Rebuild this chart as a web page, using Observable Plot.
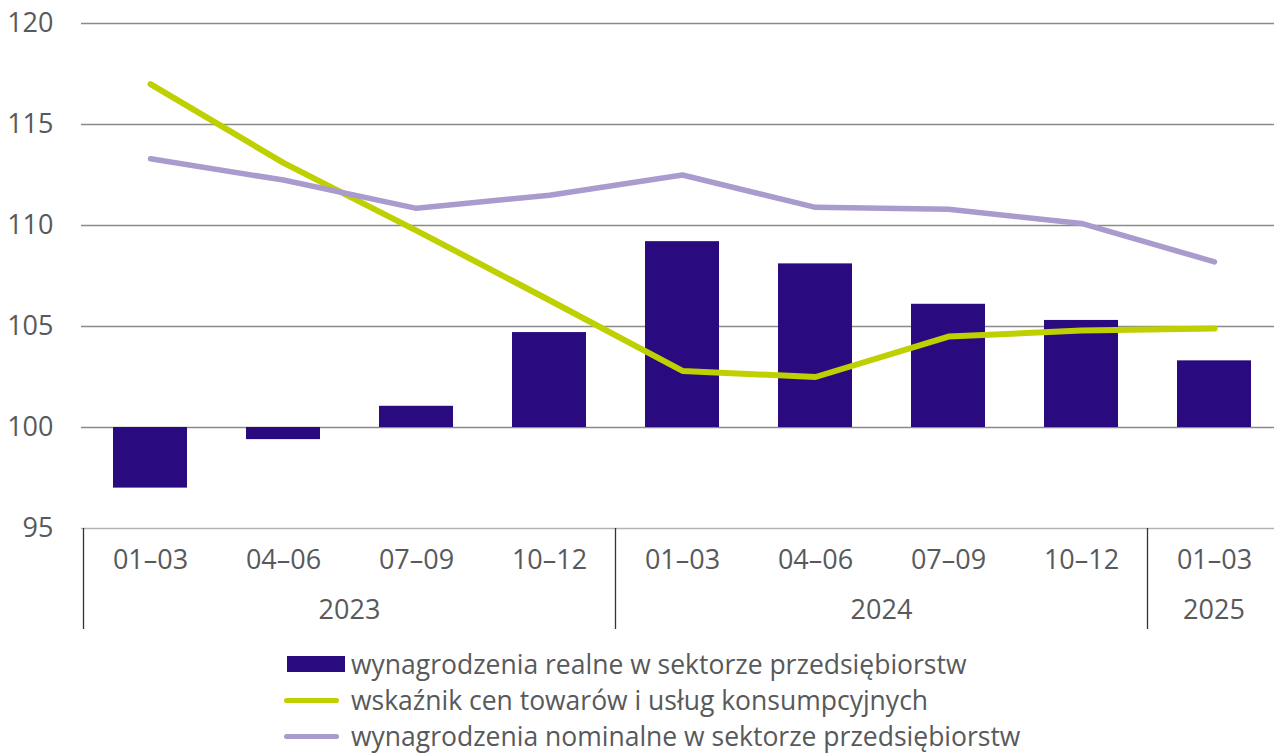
<!DOCTYPE html>
<html>
<head>
<meta charset="utf-8">
<script src="https://cdn.jsdelivr.net/npm/d3@7"></script>
<script src="https://cdn.jsdelivr.net/npm/@observablehq/plot@0.6"></script>
<style>
  html, body { margin: 0; padding: 0; background: #fff; }
  body { width: 1274px; height: 755px; overflow: hidden; font-family: "Open Sans", sans-serif; color: #58595b; }
  #legend { margin-top: 6px; padding-left: 283px; }
  .row { display: flex; align-items: center; height: 36px; font-size: 26.5px; line-height: 1; white-space: nowrap; }
  .row span { line-height: 1; display: inline-block; }
  .sw { width: 68px; height: 36px; position: relative; flex: none; }
  .sw .bar { position: absolute; left: 4px; top: 10px; width: 58px; height: 16px; }
  .sw .ln { position: absolute; left: 1px; top: 15.5px; width: 55px; height: 5px; border-radius: 3px; }
</style>
</head>
<body>
<div id="chart"></div>
<div id="legend"></div>
<script>
const quarters = ["01–03","04–06","07–09","10–12","01–03","04–06","07–09","10–12","01–03"];
const years = ["2023","2023","2023","2023","2024","2024","2024","2024","2025"];
const realWages = [97.0, 99.4, 101.05, 104.7, 109.2, 108.1, 106.1, 105.3, 103.3];
const cpi = [117.0, 113.1, 109.75, 106.3, 102.8, 102.5, 104.5, 104.8, 104.9];
const nominalWages = [113.3, 112.25, 110.85, 111.5, 112.5, 110.9, 110.8, 110.1, 108.2];
const yTicks = [95, 100, 105, 110, 115, 120];
const seriesNames = [
  "wynagrodzenia realne w sektorze przedsiębiorstw",
  "wskaźnik cen towarów i usług konsumpcyjnych",
  "wynagrodzenia nominalne w sektorze przedsiębiorstw"
];
const colors = ["#290b7f", "#bfd000", "#a99bcd"];

const data = quarters.map((q, i) => ({
  key: years[i] + " " + q, quarter: q, year: years[i],
  real: realWages[i], cpi: cpi[i], nominal: nominalWages[i]
}));
const keys = data.map(d => d.key);
const yearList = Array.from(new Set(years));

const textColor = "#58595b";
const fontFamily = "Open Sans, sans-serif";
const axisFont = 27;

function yearGroups(index, scales, values, dims) {
  const x = scales.x;
  const step = x.step ? x.step() : (dims.width) / keys.length;
  const bw = x.bandwidth ? x.bandwidth() : step;
  const top = dims.height - dims.marginBottom;
  const g = d3.create("svg:g");
  yearList.forEach(yr => {
    const ks = keys.filter(k => k.startsWith(yr));
    const left = x(ks[0]) - (step - bw) / 2;
    const right = x(ks[ks.length - 1]) + bw + (step - bw) / 2;
    g.append("line")
      .attr("x1", left).attr("x2", left)
      .attr("y1", top).attr("y2", top + 101)
      .attr("stroke", "#333").attr("stroke-width", 1.3);
    g.append("text")
      .attr("x", (left + right) / 2).attr("y", top + 80)
      .attr("text-anchor", "middle").attr("dominant-baseline", "central")
      .attr("fill", textColor).attr("font-size", axisFont).attr("font-family", fontFamily)
      .text(yr);
  });
  return g.node();
}

const chart = Plot.plot({
  width: 1274,
  height: 640,
  marginTop: 23,
  marginBottom: 112,
  marginLeft: 81,
  marginRight: 0,
  style: { fontFamily, fontSize: axisFont + "px", color: textColor, background: "#fff" },
  x: { type: "band", domain: keys, range: [81.3, 1281.7], paddingInner: 0.445, paddingOuter: 0.2225, axis: null },
  y: { domain: [95, 120], axis: null },
  marks: [
    Plot.ruleY(yTicks.filter(t => t !== 95), { stroke: "#8a8a8a", strokeWidth: 1.3 }),
    Plot.ruleY([95], { stroke: "#b4b4b4", strokeWidth: 1.5 }),
    Plot.barY(data, { x: "key", y1: 100, y2: "real", fill: colors[0] }),
    Plot.lineY(data, { x: "key", y: "cpi", stroke: colors[1], strokeWidth: 6, strokeLinecap: "round", strokeLinejoin: "round" }),
    Plot.lineY(data, { x: "key", y: "nominal", stroke: colors[2], strokeWidth: 5.5, strokeLinecap: "round", strokeLinejoin: "round" }),
    Plot.axisY(yTicks, { tickSize: 0, tickPadding: 28, fontSize: axisFont, fill: textColor }),
    Plot.text(data, { x: "key", text: "quarter", frameAnchor: "bottom", dy: 32, lineAnchor: "middle", fontSize: axisFont, fill: textColor }),
    yearGroups
  ]
});
document.getElementById("chart").appendChild(chart);

const legend = document.getElementById("legend");
seriesNames.forEach((name, i) => {
  const row = document.createElement("div");
  row.className = "row";
  const sw = document.createElement("div");
  sw.className = "sw";
  const inner = document.createElement("div");
  inner.className = i === 0 ? "bar" : "ln";
  inner.style.background = colors[i];
  sw.appendChild(inner);
  const label = document.createElement("span");
  label.textContent = name;
  row.appendChild(sw);
  row.appendChild(label);
  legend.appendChild(row);
});
</script>
</body>
</html>
